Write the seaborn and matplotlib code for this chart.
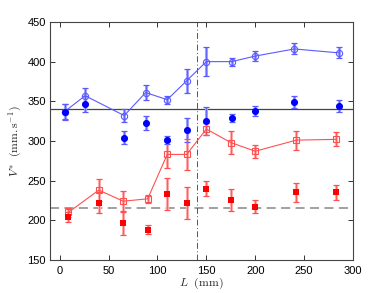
import numpy as np
import pandas as pd
import matplotlib
matplotlib.use("Agg")
import matplotlib.pyplot as plt
import seaborn as sns

# ---- data ----
blue_L = [5, 26, 66, 88, 110, 130, 150, 176, 200, 240, 286]
blue_open = [337, 357, 332, 361, 352, 376, 400, 400, 407, 416, 411]
blue_open_err = [10, 10, 8, 9, 5, 15, 18, 5, 6, 7, 7]
blue_fill = [337, 347, 304, 323, 301, 314, 325, 329, 338, 349, 344]
blue_fill_err = [9.5, 10, 8, 9, 5, 15, 18, 5, 6, 8, 7]

red_L = [9, 40, 65, 90, 110, 130, 150, 175, 200, 242, 283]
red_open = [210, 238, 224, 227, 283, 283, 315, 298, 287, 301, 302]
red_open_err = [6, 14, 13, 5, 17, 20, 7, 14, 8, 12, 9]
red_fill = [204, 222, 197, 188, 233, 222, 240, 226, 217, 235, 235]
red_fill_err = [6.5, 13, 15, 5.5, 20, 20, 9.5, 14, 8, 12, 9]

h_solid = 340
h_dashed = 215
v_dashdot = 140

x_ticks = [0, 50, 100, 150, 200, 250, 300]
y_ticks = [150, 200, 250, 300, 350, 400, 450]

sns.set_style("ticks")
plt.rcParams['font.family'] = ['Liberation Sans', 'DejaVu Sans']
plt.rcParams['mathtext.fontset'] = 'cm'

fig = plt.figure(figsize=(3.9, 2.93), dpi=100)
ax = fig.add_axes([0.128, 0.113, 0.777, 0.812])

BLUE_L = '#5a5aff'
BLUE = '#0000ff'
BLUE_LIGHT = '#a0a0ff'
RED_L = '#ff5050'
RED = '#ff0000'
RED_LIGHT = '#ffaaaa'

def ebars(x, y, e, light, dark):
    ax.errorbar(x, y, yerr=e, fmt='none', ecolor=light, elinewidth=2.2, capsize=0, zorder=2)
    ax.errorbar(x, y, yerr=e, fmt='none', ecolor=dark, elinewidth=0.6, capsize=2.3, capthick=0.9, zorder=2.1)

ebars(blue_L, blue_open, blue_open_err, BLUE_LIGHT, BLUE_L)
ebars(blue_L, blue_fill, blue_fill_err, BLUE_LIGHT, BLUE_L)
ebars(red_L, red_open, red_open_err, RED_LIGHT, RED_L)
ebars(red_L, red_fill, red_fill_err, RED_LIGHT, RED_L)

df_b = pd.DataFrame({'L': blue_L, 'open': blue_open, 'fill': blue_fill})
df_r = pd.DataFrame({'L': red_L, 'open': red_open, 'fill': red_fill})

sns.lineplot(data=df_b, x='L', y='open', ax=ax, color=BLUE_L, lw=0.8,
             marker='o', markersize=4.5, markerfacecolor='none',
             markeredgecolor=BLUE_L, markeredgewidth=0.8, zorder=3)
sns.lineplot(data=df_r, x='L', y='open', ax=ax, color=RED_L, lw=0.8,
             marker='s', markersize=4.0, markerfacecolor='none',
             markeredgecolor=RED_L, markeredgewidth=0.8, zorder=3)
sns.scatterplot(data=df_b, x='L', y='fill', ax=ax, color=BLUE, marker='o',
                s=26, edgecolor=BLUE, linewidth=0, zorder=4)
sns.scatterplot(data=df_r, x='L', y='fill', ax=ax, color=RED, marker='s',
                s=18, edgecolor=RED, linewidth=0, zorder=4)

ax.axhline(h_solid, color='#444444', lw=0.9, zorder=1.5)
ax.axhline(h_dashed, color='#999999', lw=1.3, ls=(0, (5, 3)), zorder=1.5)
ax.axvline(v_dashdot, color='#555555', lw=0.7, ls=(0, (6, 2.5, 1, 2.5)), zorder=1.5)

ax.set_xlim(-10, 300)
ax.set_ylim(150, 450)
ax.set_xticks(x_ticks)
ax.set_yticks(y_ticks)
ax.tick_params(direction='in', length=3.5, width=0.7, top=True, right=True,
               labelsize=8, colors='#333333', labelcolor='black', pad=3)
ax.tick_params(axis='x', pad=4.5)
for s in ax.spines.values():
    s.set_color('#444444')
    s.set_linewidth(0.8)

ax.set_xlabel(r'$L\ \ (\mathrm{mm})$', fontsize=8.5, labelpad=0)
ax.set_ylabel(r'$V^{*}\ \ (\mathrm{mm.s}^{-1})$', fontsize=8.5, labelpad=2)

fig.savefig('out.png', dpi=100)
